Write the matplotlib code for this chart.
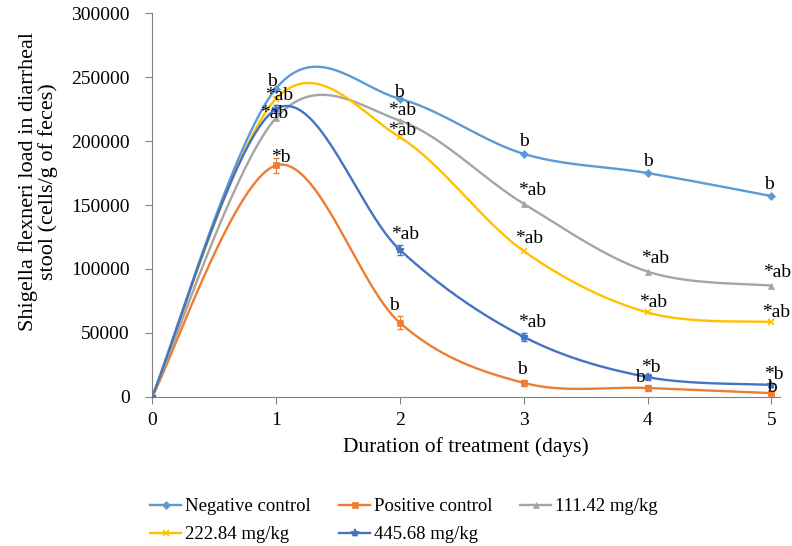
import numpy as np
from matplotlib import pyplot as plt

plt.rcParams['font.family'] = ['Liberation Serif', 'DejaVu Serif']

# Dati
days = [0, 1, 2, 3, 4, 5]
neg = [0, 241000, 233000, 190000, 175000, 157000]
pos = [0, 181000, 58000, 11000, 7000, 3000]
d111 = [0, 218000, 216000, 151000, 98000, 87000]
d222 = [0, 233000, 203000, 114000, 66000, 58500]
d445 = [0, 225000, 115000, 47000, 15500, 9500]
pos_err = [0, 6000, 5000, 2500, 2500, 1500]
d445_err = [0, 3000, 4000, 3000, 2500, 1500]

lab_neg = ['', 'b', 'b', 'b', 'b', 'b']
lab_pos = ['', '*b', 'b', 'b', 'b', 'b']
lab_111 = ['', '', '*ab', '*ab', '*ab', '*ab']
lab_222 = ['', '*ab', '*ab', '*ab', '*ab', '*ab']
lab_445 = ['', '*ab', '*ab', '*ab', '*b', '*b']

# spostamento delle lettere (pixel: dx, su)
off_neg = [None, (-4, 7), (-1, 6), (0, 12), (0, 12), (-3, 12)]
off_pos = [None, (5, 8), (-6, 17), (-2, 13), (-8, 10), (0, 6)]
off_111 = [None, None, (2, 10), (8, 13), (8, 13), (6, 13)]
off_222 = [None, (3, 3), (2, 7), (5, 13), (6, 10), (5, 10)]
off_445 = [None, (-2, -4), (5, 15), (8, 14), (3, 10), (2, 10)]

series = [
    ('Negative control', neg, lab_neg, off_neg, '#5B9BD5', 'D', 4),
    ('Positive control', pos, lab_pos, off_pos, '#ED7D31', 's', 5),
    ('111.42 mg/kg', d111, lab_111, off_111, '#A5A5A5', '^', 5),
    ('222.84 mg/kg', d222, lab_222, off_222, '#FFC000', 'x', 5),
    ('445.68 mg/kg', d445, lab_445, off_445, '#4472C4', '*', 6),
]


def smooth(x, y, n=40):
    # curva tipo Excel (Catmull-Rom -> Bezier)
    x = np.asarray(x, float)
    y = np.asarray(y, float)
    px = np.r_[x[0], x, x[-1]]
    py = np.r_[y[0], y, y[-1]]
    xs, ys = [], []
    t = np.linspace(0, 1, n)
    for i in range(len(x) - 1):
        p0 = np.array([x[i], y[i]])
        p3 = np.array([x[i + 1], y[i + 1]])
        p1 = p0 + (np.array([px[i + 2], py[i + 2]]) - np.array([px[i], py[i]])) / 6
        p2 = p3 - (np.array([px[i + 3], py[i + 3]]) - np.array([px[i + 1], py[i + 1]])) / 6
        b = ((1 - t) ** 3)[:, None] * p0 + (3 * (1 - t) ** 2 * t)[:, None] * p1 \
            + (3 * (1 - t) * t ** 2)[:, None] * p2 + (t ** 3)[:, None] * p3
        xs.append(b[:, 0])
        ys.append(b[:, 1])
    return np.concatenate(xs), np.concatenate(ys)


fig = plt.figure(figsize=(7.92, 5.46), dpi=100)
ax = fig.add_axes([0.192, 0.273, 0.793, 0.703])

handles = []
for name, vals, labs, offs, col, mk, ms in series:
    sx, sy = smooth(days, vals)
    ax.plot(sx, sy, color=col, lw=1.7, zorder=3)
    mew = 1.2 if mk in 'x*' else 0.5
    ax.plot(days, vals, color=col, marker=mk, ms=ms, mew=mew, ls='', zorder=4)
    handles.append(plt.Line2D([], [], color=col, lw=1.7, marker=mk, ms=ms, mew=mew))
    for d, v, s, o in zip(days, vals, labs, offs):
        if s:
            ax.annotate(s, (d, v), xytext=(o[0] * 0.72, o[1] * 0.72),
                        textcoords='offset points', ha='center', va='center',
                        fontsize=14, zorder=5)

ax.errorbar(days, pos, yerr=pos_err, fmt='none', ecolor='#ED7D31', elinewidth=0.8,
            capsize=2.5, zorder=4)
ax.errorbar(days, d445, yerr=d445_err, fmt='none', ecolor='#4472C4', elinewidth=0.8,
            capsize=2.5, zorder=4)

ax.set_xlim(0, 5.07)
ax.set_ylim(0, 300000)
ax.set_xticks(range(6))
ax.set_yticks(np.arange(0, 300001, 50000))
ax.tick_params(labelsize=14, color='#808080', length=5)
ax.tick_params(axis='x', pad=6)
ax.tick_params(axis='y', pad=11)
for s in ['top', 'right']:
    ax.spines[s].set_visible(False)
for s in ['left', 'bottom']:
    ax.spines[s].set_color('#808080')

ax.set_xlabel('Duration of treatment (days)', fontsize=15.5)
ax.xaxis.set_label_coords(0.5, -0.105)
ax.set_ylabel('Shigella flexneri load in diarrheal\nstool (cells/g of feces)', fontsize=16,
              linespacing=1.0)
ax.yaxis.set_label_coords(-0.15, 0.56)

# ordine per righe come nel riferimento
order = [0, 3, 1, 4, 2]
fig.legend([handles[i] for i in order], [series[i][0] for i in order], ncol=3,
           loc='upper left', bbox_to_anchor=(0.19, 0.088), frameon=False,
           fontsize=13.5, handlelength=1.65, handletextpad=0.2, columnspacing=1.5,
           labelspacing=0.6, borderaxespad=0, borderpad=0)

fig.savefig('out.png', dpi=100)
